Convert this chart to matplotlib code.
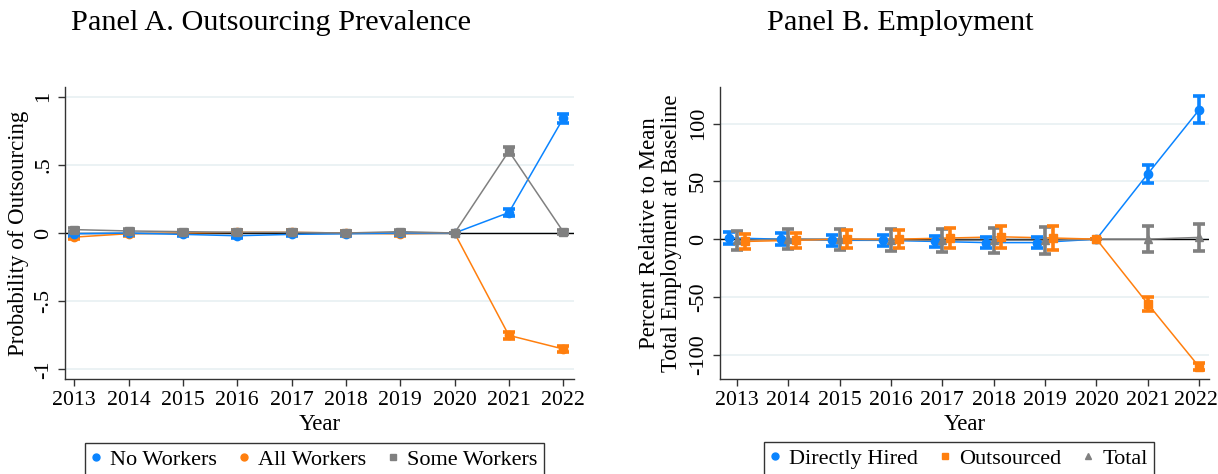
import numpy as np
import matplotlib
matplotlib.use("Agg")
import matplotlib.pyplot as plt
import matplotlib.transforms as mtransforms
from matplotlib.lines import Line2D

plt.rcParams['font.family'] = ['Liberation Serif', 'DejaVu Serif']

years = [2013, 2014, 2015, 2016, 2017, 2018, 2019, 2020, 2021, 2022]

# Panel A: outsourcing prevalence
no_workers = [-0.005, 0.0, -0.01, -0.02, -0.01, -0.005, 0.0, 0.0, 0.15, 0.84]
no_workers_ci = [0.015, 0.015, 0.015, 0.015, 0.015, 0.015, 0.015, 0.0, 0.025, 0.03]
all_workers = [-0.03, -0.005, 0.0, 0.005, 0.005, 0.0, -0.005, 0.0, -0.75, -0.85]
all_workers_ci = [0.015, 0.015, 0.015, 0.015, 0.015, 0.015, 0.015, 0.0, 0.025, 0.02]
some_workers = [0.025, 0.015, 0.01, 0.005, 0.005, 0.0, 0.01, 0.0, 0.60, 0.01]
some_workers_ci = [0.015, 0.015, 0.015, 0.015, 0.015, 0.015, 0.015, 0.0, 0.03, 0.015]

# Panel B: employment
direct = [1, 0, -1, -1, -2, -3, -3, 0, 56.5, 112]
direct_ci = [5.5, 5, 5, 5, 5, 5, 5, 0, 8, 11.5]
outsourced = [-2, -1, 0, 0, 1, 2, 1, 0, -56, -110.5]
outsourced_ci = [6.5, 6.5, 8, 8, 8.5, 9.5, 10, 0, 6, 3]
total = [-1, 0, 0, -1, -1, -1, -1, 0, 0, 1.5]
total_ci = [8, 8.5, 9, 9.5, 10, 11, 11.5, 0, 11.5, 11.8]
dodge = [0.15, 0.15, 0.15, 0.15, 0.15, 0.15, 0.15, 0, 0, 0]

blue = '#0a84ff'
orange = '#ff7f0e'
gray = '#808080'
grid_c = '#e8f0f2'

fig = plt.figure(figsize=(12.18, 4.74), dpi=100)
axA = fig.add_axes([0.0534, 0.2004, 0.4179, 0.6160])
axB = fig.add_axes([0.5911, 0.2004, 0.4019, 0.6160])

x = np.array(years, dtype=float)
d = np.array(dodge)


def series(ax, xs, ys, ci, color, marker, ms):
    ax.plot(xs, ys, color=color, lw=1.1, zorder=3)
    ax.errorbar(xs, ys, yerr=ci, fmt='none', ecolor=color, elinewidth=2.6,
                capsize=4, capthick=2.6, zorder=4)
    ax.plot(xs, ys, linestyle='none', marker=marker, color=color, ms=ms, zorder=5)


for ax in (axA, axB):
    ax.axhline(0, color='black', lw=1, zorder=2)
    for s in ('top', 'right'):
        ax.spines[s].set_visible(False)
    for s in ('left', 'bottom'):
        ax.spines[s].set_color('#333333')
        ax.spines[s].set_linewidth(1)
    ax.set_xticks(years)
    ax.tick_params(axis='both', labelsize=16, length=5, width=1, color='#333333')
    ax.tick_params(axis='x', labelsize=15.7)
    ax.tick_params(axis='y', labelrotation=90)
    ax.set_xlabel('Year', fontsize=16.5, labelpad=3)
    ax.grid(axis='y', color=grid_c, lw=1.2, zorder=0)
    ax.set_axisbelow(True)

# Panel A
series(axA, x, all_workers, all_workers_ci, orange, 'o', 6)
series(axA, x, no_workers, no_workers_ci, blue, 'o', 6)
series(axA, x, some_workers, some_workers_ci, gray, 's', 6)
axA.set_xlim(2012.83, 2022.2)
axA.set_ylim(-1.07, 1.07)
axA.set_yticks([-1, -0.5, 0, 0.5, 1])
axA.set_yticklabels(['-1', '-.5', '0', '.5', '1'], va='center')
axA.set_ylabel('Probability of Outsourcing', fontsize=16.5, labelpad=4)

# Panel B
series(axB, x - d, direct, direct_ci, blue, 'o', 6)
series(axB, x, total, total_ci, gray, '^', 6)
series(axB, x + d, outsourced, outsourced_ci, orange, 's', 6)
axB.set_xlim(2012.67, 2022.2)
axB.set_ylim(-121, 131.6)
axB.set_yticks([-100, -50, 0, 50, 100])
axB.set_yticklabels(['-100', '-50', '0', '50', '100'], va='center')
axB.set_ylabel('Percent Relative to Mean\nTotal Employment at Baseline',
               fontsize=16.5, labelpad=5, linespacing=1.1)

# keep the last year label inside the canvas
last = axB.get_xticklabels()[-1]
last.set_transform(last.get_transform() + mtransforms.ScaledTranslation(-3 / 100, 0, fig.dpi_scale_trans))

fig.text(0.2225, 0.952, 'Panel A. Outsourcing Prevalence', ha='center', va='center', fontsize=21.8)
fig.text(0.739, 0.952, 'Panel B. Employment', ha='center', va='center', fontsize=21.8)

legend_kw = dict(loc='upper center', ncol=3, fontsize=16, frameon=True, fancybox=False,
                 edgecolor='black', handlelength=0.4, handletextpad=0.45,
                 columnspacing=1.0, borderpad=0.3, borderaxespad=0)

hA = [Line2D([], [], ls='none', marker='o', color=blue, ms=5),
      Line2D([], [], ls='none', marker='o', color=orange, ms=5),
      Line2D([], [], ls='none', marker='s', color=gray, ms=5)]
legA = fig.legend(hA, ['No Workers', 'All Workers', 'Some Workers'],
                  bbox_to_anchor=(314.5 / 1218, 1 - 443 / 474), **legend_kw)
legA.get_frame().set_linewidth(1)

hB = [Line2D([], [], ls='none', marker='o', color=blue, ms=5),
      Line2D([], [], ls='none', marker='s', color=orange, ms=5),
      Line2D([], [], ls='none', marker='^', color=gray, ms=5)]
legB = fig.legend(hB, ['Directly Hired', 'Outsourced', 'Total'],
                  bbox_to_anchor=(959 / 1218, 1 - 442 / 474), **legend_kw)
legB.get_frame().set_linewidth(1)

fig.savefig('out.png', dpi=100)
